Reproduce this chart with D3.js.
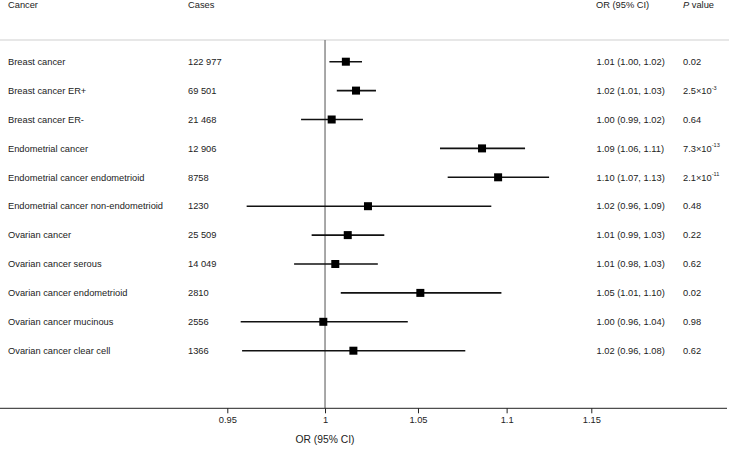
<!DOCTYPE html>
<html>
<head>
<meta charset="utf-8">
<script src="https://cdn.jsdelivr.net/npm/d3@7/dist/d3.min.js"></script>
<style>
  html, body { margin: 0; padding: 0; background: #fff; }
  svg { display: block; font-family: "Liberation Sans", Arial, Helvetica, sans-serif; }
</style>
</head>
<body>
<svg id="chart" width="729" height="449"></svg>
<script>
const categories = [
  "Breast cancer", "Breast cancer ER+", "Breast cancer ER-",
  "Endometrial cancer", "Endometrial cancer endometrioid", "Endometrial cancer non-endometrioid",
  "Ovarian cancer", "Ovarian cancer serous", "Ovarian cancer endometrioid",
  "Ovarian cancer mucinous", "Ovarian cancer clear cell"
];
const cases = ["122 977", "69 501", "21 468", "12 906", "8758", "1230", "25 509", "14 049", "2810", "2556", "1366"];
const orValues = [1.011, 1.0164, 1.0035, 1.0859, 1.0951, 1.0228, 1.0120, 1.0054, 1.0513, 0.9991, 1.0150];
const ciLower  = [1.0023, 1.0062, 0.9875, 1.0622, 1.0665, 0.9597, 0.9930, 0.9839, 1.0083, 0.9567, 0.9574];
const ciUpper  = [1.0196, 1.0271, 1.0201, 1.1107, 1.1248, 1.0912, 1.0316, 1.0281, 1.0970, 1.0444, 1.0764];
const orLabels = ["1.01 (1.00, 1.02)", "1.02 (1.01, 1.03)", "1.00 (0.99, 1.02)", "1.09 (1.06, 1.11)",
  "1.10 (1.07, 1.13)", "1.02 (0.96, 1.09)", "1.01 (0.99, 1.03)", "1.01 (0.98, 1.03)",
  "1.05 (1.01, 1.10)", "1.00 (0.96, 1.04)", "1.02 (0.96, 1.08)"];
// p values: [mantissa text, exponent or null]
const pMantissa = ["0.02", "2.5×10", "0.64", "7.3×10", "2.1×10", "0.48", "0.22", "0.62", "0.02", "0.98", "0.62"];
const pExponent = [null, "-3", null, "-13", "-11", null, null, null, null, null, null];
const tickValues = [0.95, 1, 1.05, 1.1, 1.15];
const tickLabels = ["0.95", "1", "1.05", "1.1", "1.15"];

const svg = d3.select("#chart");
const fs = 9.3;

const x = d3.scaleLog().domain([0.95, 1.15]).range([227.3, 591.3]);
const y = d3.scalePoint().domain(categories).range([61.7, 350.7]);

const headerY = 40, axisY = 408.3;

// header line
svg.append("line").attr("x1", 0).attr("x2", 729).attr("y1", headerY).attr("y2", headerY)
  .attr("stroke", "#cfcfcf").attr("stroke-width", 1.2);

// headers
const hdr = svg.append("g").attr("font-size", fs).attr("fill", "#222");
hdr.append("text").attr("x", 8).attr("y", 8).text("Cancer");
hdr.append("text").attr("x", 188).attr("y", 8).text("Cases");
hdr.append("text").attr("x", 596).attr("y", 8).text("OR (95% CI)");
const pv = hdr.append("text").attr("x", 683).attr("y", 8);
pv.append("tspan").attr("font-style", "italic").text("P");
pv.append("tspan").text(" value");

// reference line
svg.append("line").attr("x1", x(1)).attr("x2", x(1)).attr("y1", headerY).attr("y2", axisY)
  .attr("stroke", "#7a7a7a").attr("stroke-width", 1.3);

// axis
svg.append("line").attr("x1", 0).attr("x2", 727).attr("y1", axisY).attr("y2", axisY)
  .attr("stroke", "#222").attr("stroke-width", 1);
const axis = d3.axisBottom(x).tickValues(tickValues).tickFormat((d, i) => tickLabels[i]).tickSizeOuter(0).tickSize(5).tickPadding(3);
const ag = svg.append("g").attr("transform", `translate(0,${axisY})`).call(axis);
ag.select(".domain").remove();
ag.selectAll(".tick line").attr("stroke", "#222");
ag.selectAll(".tick text").attr("font-size", fs).attr("fill", "#222")
  .attr("font-family", '"Liberation Sans", Arial, Helvetica, sans-serif');

svg.append("text").attr("x", x(1)).attr("y", 443).attr("text-anchor", "middle")
  .attr("font-size", 10.3).attr("fill", "#222").text("OR (95% CI)");

// rows
const rows = svg.append("g").attr("font-size", fs).attr("fill", "#222");
categories.forEach((c, i) => {
  const yy = y(c);
  rows.append("text").attr("x", 8).attr("y", yy).attr("dy", "0.35em").text(c);
  rows.append("text").attr("x", 188).attr("y", yy).attr("dy", "0.35em").text(cases[i]);
  rows.append("text").attr("x", 596.5).attr("y", yy).attr("dy", "0.35em").text(orLabels[i]);
  const t = rows.append("text").attr("x", 683).attr("y", yy).attr("dy", "0.35em");
  t.append("tspan").text(pMantissa[i]);
  if (pExponent[i]) {
    t.append("tspan").attr("font-size", fs * 0.6).attr("dy", "-0.75em").text(pExponent[i]);
  }
});

// CI lines and squares
const marks = svg.append("g");
marks.selectAll("line.ci").data(categories).join("line").attr("class", "ci")
  .attr("x1", (d, i) => x(ciLower[i])).attr("x2", (d, i) => x(ciUpper[i]))
  .attr("y1", d => y(d)).attr("y2", d => y(d))
  .attr("stroke", "#111").attr("stroke-width", 1.6);
const sq = 8;
marks.selectAll("rect.pt").data(categories).join("rect").attr("class", "pt")
  .attr("x", (d, i) => x(orValues[i]) - sq / 2).attr("y", d => y(d) - sq / 2)
  .attr("width", sq).attr("height", sq).attr("fill", "#000");
</script>
</body>
</html>
